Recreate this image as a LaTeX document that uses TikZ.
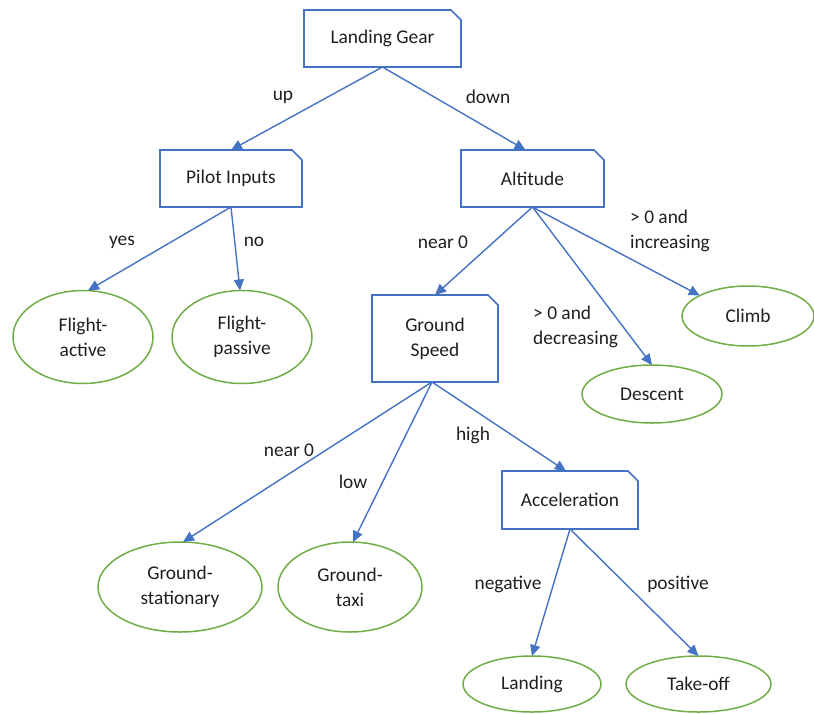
\documentclass[tikz,border=0pt]{standalone}
\usepackage{fontspec}
\setmainfont{Carlito}
\usetikzlibrary{arrows.meta,shapes.geometric}
\definecolor{boxblue}{HTML}{4472C4}
\definecolor{stategreen}{HTML}{70AD47}
\definecolor{ink}{HTML}{1F1F1F}

% outline of a decision box with its top-right corner cut off
\newcommand\snipframe[1]{%
  \draw[boxline] (#1.south west) -- (#1.north west) -- ([xshift=-10pt]#1.north east)
    -- ([yshift=-10pt]#1.north east) -- (#1.south east) -- cycle;}

\tikzset{
  boxline/.style={draw=boxblue, line width=1.6pt, line join=miter},
  decision/.style={rectangle, draw=none, outer sep=0pt, inner sep=0pt,
                   align=center, text=ink},
  state/.style={ellipse, draw=stategreen, line width=1.5pt, outer sep=0pt,
                inner sep=0pt, align=center, text=ink},
  edge/.style={draw=boxblue, line width=1.4pt,
               -{Triangle[length=11pt,width=10pt]}},
  lbl/.style={text=ink, inner sep=0pt, align=left},
}

\begin{document}
\begin{tikzpicture}[x=1pt, y=-1pt, font=\fontsize{19.4}{25}\selectfont]
\useasboundingbox (0,0) rectangle (814,713);

% decision boxes
\node[decision, minimum width=157pt, minimum height=57pt] (lg)  at (382.5,38.5) {Landing Gear};
\node[decision, minimum width=142pt, minimum height=57pt] (pi)  at (231,178.5)  {Pilot Inputs};
\node[decision, minimum width=143pt, minimum height=57pt] (alt) at (532.5,178.5) {Altitude};
\node[decision, minimum width=126pt, minimum height=87pt] (gs)  at (435,338.5)  {Ground\\Speed};
\node[decision, minimum width=136pt, minimum height=58pt] (acc) at (570,500)    {Acceleration};
\snipframe{lg}
\snipframe{pi}
\snipframe{alt}
\snipframe{gs}
\snipframe{acc}

% flight states
\node[state, minimum width=140pt, minimum height=93pt] (fa) at (83,337)  {Flight-\\active};
\node[state, minimum width=140pt, minimum height=93pt] (fp) at (242,337) {Flight-\\passive};
\node[state, minimum width=132pt, minimum height=60pt] (cl) at (748,316) {Climb};
\node[state, minimum width=140pt, minimum height=58pt] (de) at (652,394) {Descent};
\node[state, minimum width=164pt, minimum height=90pt] (gst) at (180,587) {Ground-\\stationary};
\node[state, minimum width=144pt, minimum height=90pt] (gt)  at (350,587) {Ground-\\taxi};
\node[state, minimum width=138pt, minimum height=56pt] (la) at (532,684)   {Landing};
\node[state, minimum width=145pt, minimum height=56pt] (to) at (698.5,684) {Take-off};

% branches
\draw[edge] (lg.south) -- (pi.north);
\draw[edge] (lg.south) -- ([xshift=-7pt]alt.north);
\draw[edge] (pi.south) -- ([xshift=5pt]fa.north);
\draw[edge] (pi.south) -- ([xshift=-2pt]fp.north);
\draw[edge] (alt.south) -- (gs.north);
\draw[edge] (alt.south) -- (de.north);
\draw[edge] (alt.south) -- (cl.157);
\draw[edge] ([xshift=-3pt]gs.south) -- ([xshift=3pt]gst.north);
\draw[edge] ([xshift=-3pt]gs.south) -- ([xshift=3pt]gt.north);
\draw[edge] ([xshift=-3pt]gs.south) -- ([xshift=-4pt]acc.north);
\draw[edge] (acc.south) -- (la.north);
\draw[edge] (acc.south) -- (to.north);

% branch labels
\node[lbl] (l-up)   at (283,97)  {up};
\node[lbl] (l-down) at (488,97)  {down};
\node[lbl] (l-yes)  at (122,242) {yes};
\node[lbl] (l-no)   at (254,242) {no};
\node[lbl] (l-anear) at (443,242) {near 0};
\node[lbl, anchor=west] (l-inc) at (630,231) {> 0 and\\increasing};
\node[lbl, anchor=west] (l-dec) at (533,327) {> 0 and\\decreasing};
\node[lbl] (l-gnear) at (289,450) {near 0};
\node[lbl] (l-low)  at (353,482) {low};
\node[lbl] (l-high) at (473,435) {high};
\node[lbl] (l-neg)  at (508,584) {negative};
\node[lbl] (l-pos)  at (678,584) {positive};
\end{tikzpicture}
\end{document}
